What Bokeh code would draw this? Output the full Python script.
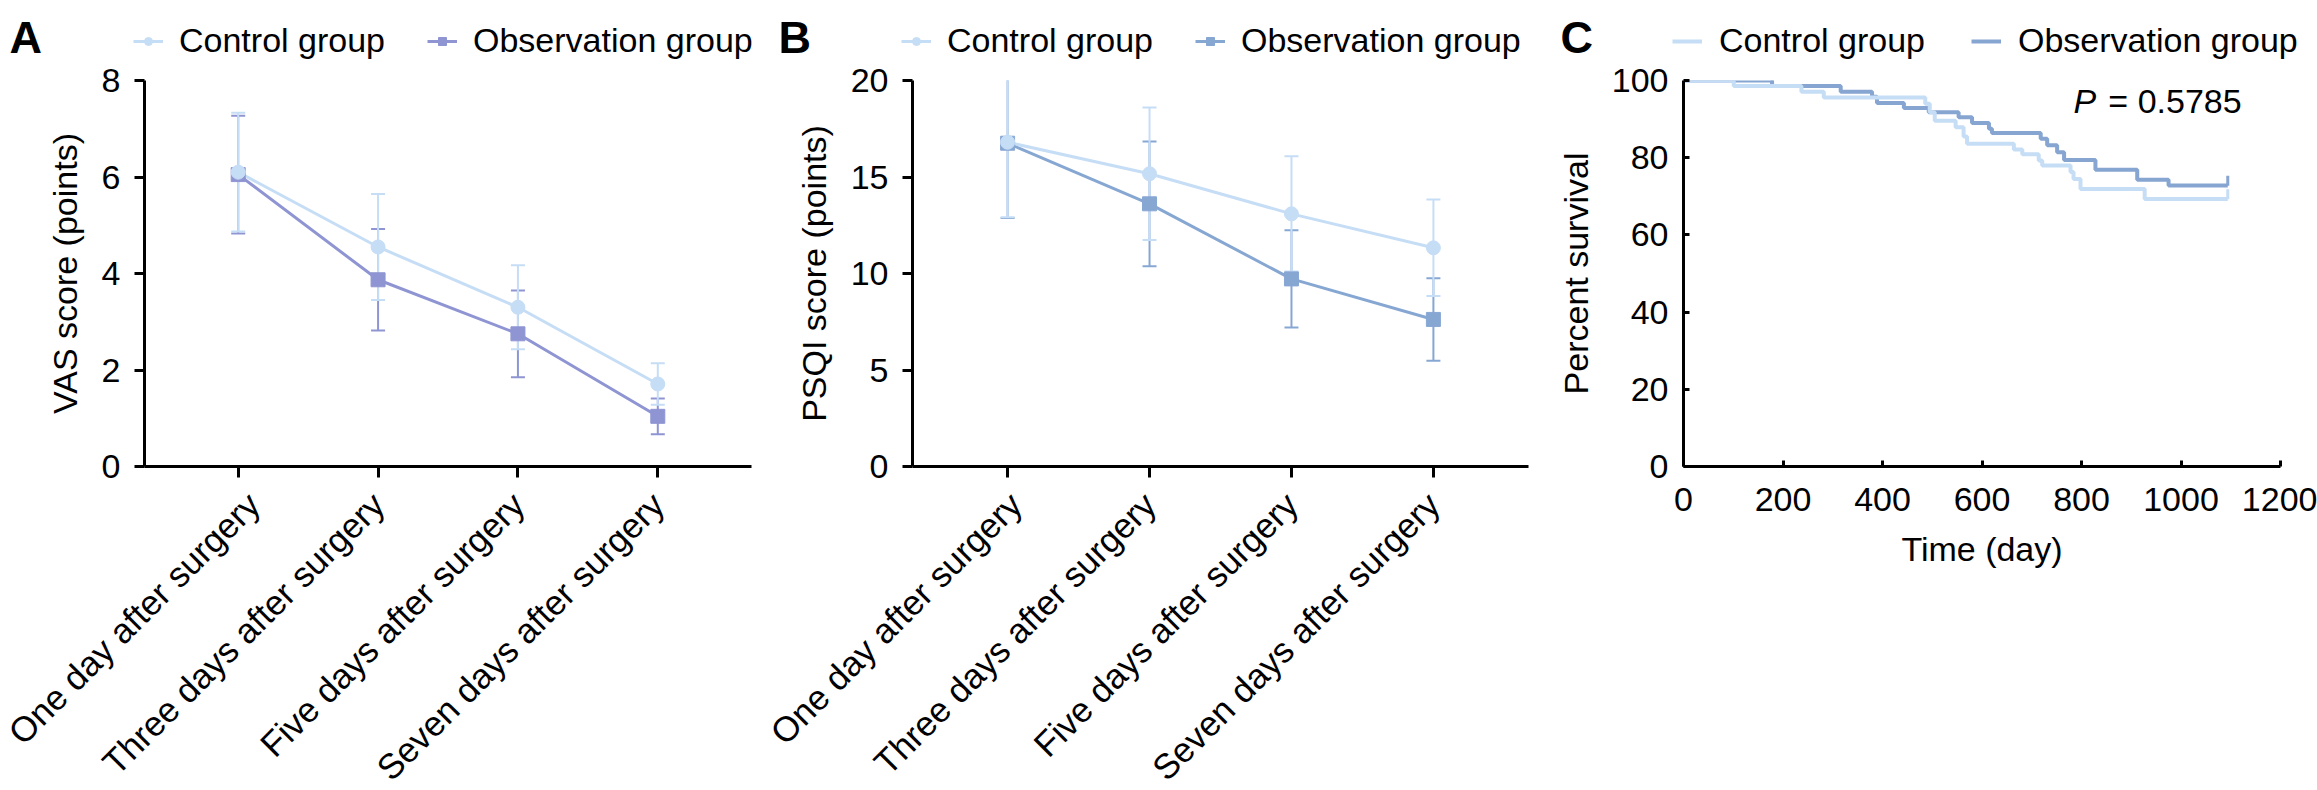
import math
from bokeh.plotting import figure
from bokeh.layouts import row, column
from bokeh.models import (ColumnDataSource, FactorRange, Range1d, Legend, LegendItem,
                          Label, FixedTicker)
from bokeh.embed import file_html
from bokeh.resources import INLINE

# ---------------- data ----------------
timepoints = ["One day after surgery", "Three days after surgery",
              "Five days after surgery", "Seven days after surgery"]

vas_control_mean = [6.10, 4.55, 3.30, 1.71]
vas_control_sd = [1.23, 1.10, 0.87, 0.43]
vas_obs_mean = [6.05, 3.87, 2.75, 1.04]
vas_obs_sd = [1.22, 1.05, 0.90, 0.37]

psqi_control_mean = [16.80, 15.17, 13.09, 11.33]
psqi_control_sd = [3.88, 3.43, 2.99, 2.50]
psqi_obs_mean = [16.75, 13.61, 9.72, 7.62]
psqi_obs_sd = [3.88, 3.23, 2.52, 2.14]

km_control_time = [0, 101, 237, 282, 486, 495, 505, 547, 563, 570, 664, 681, 714, 721, 778, 784, 798, 927, 1094]
km_control_surv = [100, 98.6, 97.1, 95.6, 94.0, 91.8, 89.6, 87.9, 85.5, 83.6, 82.1, 80.9, 79.3, 78.0, 76.3, 74.5, 71.9, 69.3, 69.3]
km_control_censor_time = [101, 1094]
km_control_censor_surv = [100, 69.3]

km_obs_time = [0, 178, 316, 379, 389, 443, 493, 553, 580, 614, 620, 718, 731, 751, 765, 828, 912, 975, 1094]
km_obs_surv = [100, 98.6, 97.1, 95.8, 94.2, 92.9, 91.8, 90.5, 89.0, 87.5, 86.4, 84.9, 83.2, 81.4, 79.4, 76.9, 74.3, 72.8, 72.8]
km_obs_censor_time = [178, 1094]
km_obs_censor_surv = [100, 72.8]

legend_labels = ["Control group", "Observation group"]
panel_letters = ["A", "B", "C"]
p_value_text = "= 0.5785"

vas_ticks = [0, 2, 4, 6, 8]
psqi_ticks = [0, 5, 10, 15, 20]
surv_ticks = [0, 20, 40, 60, 80, 100]
time_ticks = [0, 200, 400, 600, 800, 1000, 1200]

# ---------------- style ----------------
FONT = "Liberation Sans"
FS = "34px"
LIGHT = "#c6ddf6"
PURPLE = "#8f95d3"
STEEL = "#87a7d3"
STEEL_C = "#86a5d1"
NAN = float("nan")

HEAD_H = 62
TOP = 18
FRAME_H = 386
BOTTOM = 320


def base_axes(p):
    p.outline_line_color = None
    p.xgrid.grid_line_color = None
    p.ygrid.grid_line_color = None
    p.background_fill_color = "white"
    p.border_fill_color = "white"
    for ax in (p.xaxis[0], p.yaxis[0]):
        ax.axis_line_width = 3
        ax.axis_line_color = "black"
        ax.major_tick_line_width = 3
        ax.major_tick_line_color = "black"
        ax.minor_tick_line_color = None
        ax.major_label_text_font = FONT
        ax.major_label_text_font_size = FS
        ax.major_label_text_color = "black"
        ax.axis_label_text_font = FONT
        ax.axis_label_text_font_size = FS
        ax.axis_label_text_font_style = "normal"
        ax.axis_label_text_color = "black"


def score_panel(left, fw, right, ymax, yticks, ylabel, c_mean, c_sd, o_mean, o_sd, ocolor):
    p = figure(frame_width=fw, frame_height=FRAME_H,
               x_range=FactorRange(factors=timepoints, range_padding=0.17,
                                   range_padding_units="absolute"),
               y_range=Range1d(0, ymax), output_backend="svg", toolbar_location=None,
               min_border_left=left, min_border_right=right, min_border_top=TOP,
               min_border_bottom=BOTTOM)
    base_axes(p)
    p.yaxis.ticker = FixedTicker(ticks=yticks)
    p.yaxis.axis_label = ylabel
    p.yaxis.major_tick_out = 10
    p.yaxis.major_tick_in = 0
    p.yaxis.major_label_standoff = 14
    p.yaxis.axis_label_standoff = 15
    p.xaxis.major_tick_out = 11
    p.xaxis.major_tick_in = 0
    p.xaxis.major_label_standoff = 21
    p.xaxis.major_label_orientation = math.pi / 4
    p.xaxis.major_label_text_font_size = "35px"

    def src(mean, sd):
        return ColumnDataSource(dict(x=timepoints, y=mean,
                                     lo=[m - s for m, s in zip(mean, sd)],
                                     hi=[m + s for m, s in zip(mean, sd)]))

    cs = src(c_mean, c_sd)
    os_ = src(o_mean, o_sd)
    for s, col in ((os_, ocolor), (cs, LIGHT)):
        p.segment(x0="x", y0="lo", x1="x", y1="hi", source=s, line_color=col, line_width=2)
        p.scatter(x="x", y="lo", source=s, marker="dash", size=14, line_color=col, line_width=2)
        p.scatter(x="x", y="hi", source=s, marker="dash", size=14, line_color=col, line_width=2)
    p.line(x="x", y="y", source=os_, line_color=ocolor, line_width=3)
    p.line(x="x", y="y", source=cs, line_color=LIGHT, line_width=3)
    p.scatter(x="x", y="y", source=os_, marker="square", size=14, fill_color=ocolor, line_color=ocolor)
    p.scatter(x="x", y="y", source=cs, marker="circle", size=14, fill_color=LIGHT, line_color=LIGHT)
    return p


pA = score_panel(144, 607, 11, 8, vas_ticks, "VAS score (points)",
                 vas_control_mean, vas_control_sd, vas_obs_mean, vas_obs_sd, PURPLE)
pB = score_panel(150, 616, 20, 20, psqi_ticks, "PSQI score (points)",
                 psqi_control_mean, psqi_control_sd, psqi_obs_mean, psqi_obs_sd, STEEL)

# ---------------- Panel C: Kaplan-Meier ----------------
pC = figure(frame_width=597, frame_height=FRAME_H, x_range=Range1d(0, 1200), y_range=Range1d(0, 100),
            output_backend="svg", toolbar_location=None,
            min_border_left=135, min_border_right=37, min_border_top=TOP, min_border_bottom=BOTTOM)
base_axes(pC)
pC.xaxis.ticker = FixedTicker(ticks=time_ticks)
pC.yaxis.ticker = FixedTicker(ticks=surv_ticks)
pC.xaxis.axis_label = "Time (day)"
pC.yaxis.axis_label = "Percent survival"
for ax in (pC.xaxis[0], pC.yaxis[0]):
    ax.major_tick_in = 6
    ax.major_tick_out = 0
pC.xaxis.major_label_standoff = 21
pC.xaxis.axis_label_standoff = 16
pC.yaxis.major_label_standoff = 15
pC.yaxis.axis_label_standoff = 14

ctrl_src = ColumnDataSource(dict(t=km_control_time, s=km_control_surv))
obs_src = ColumnDataSource(dict(t=km_obs_time, s=km_obs_surv))
ctrl_cen = ColumnDataSource(dict(t=km_control_censor_time, s=[v + 1.2 for v in km_control_censor_surv]))
obs_cen = ColumnDataSource(dict(t=km_obs_censor_time, s=[v + 1.2 for v in km_obs_censor_surv]))

pC.step(x="t", y="s", source=obs_src, mode="after", line_color=STEEL_C, line_width=4)
pC.scatter(x="t", y="s", source=obs_cen, marker="dash", angle=math.pi / 2, size=10,
           line_color=STEEL_C, line_width=3)
pC.step(x="t", y="s", source=ctrl_src, mode="after", line_color=LIGHT, line_width=4)
pC.scatter(x="t", y="s", source=ctrl_cen, marker="dash", angle=math.pi / 2, size=10,
           line_color=LIGHT, line_width=3)

pC.add_layout(Label(x=784, y=94.8, text="P", text_font=FONT, text_font_size=FS,
                    text_font_style="italic", text_color="black", text_baseline="middle"))
pC.add_layout(Label(x=854, y=94.8, text=p_value_text, text_font=FONT, text_font_size=FS,
                    text_color="black", text_baseline="middle"))

# ---------------- header: panel letters and legends ----------------
TOTAL_W = (144 + 607 + 11) + (150 + 616 + 20) + (135 + 597 + 37)
head = figure(width=TOTAL_W, height=HEAD_H, x_range=Range1d(0, TOTAL_W), y_range=Range1d(0, HEAD_H),
              x_axis_type=None, y_axis_type=None, output_backend="svg", toolbar_location=None,
              min_border=0)
head.outline_line_color = None
head.background_fill_color = "white"
head.border_fill_color = "white"


def legend_in_head(x0, ctrl_col, obs_col, ctrl_marker, obs_marker, km=False, spacing=42, standoff=16):
    items = []
    for lab, col, mk in ((legend_labels[0], ctrl_col, ctrl_marker), (legend_labels[1], obs_col, obs_marker)):
        # legend-only renderers: a single NaN row, so nothing is drawn in the header itself
        ln = head.line(x=[NAN], y=[NAN], line_color=col, line_width=4 if km else 3)
        if km:
            mr = head.scatter(x=[NAN], y=[NAN], marker="dash", angle=math.pi / 2, size=10,
                              line_color=col, line_width=3)
        else:
            mr = head.scatter(x=[NAN], y=[NAN], marker=mk, size=13, fill_color=col, line_color=col)
        items.append(LegendItem(label=lab, renderers=[ln, mr]))
    leg = Legend(items=items, location=(x0, 2), orientation="horizontal",
                 padding=0, margin=0, spacing=spacing, glyph_width=30, glyph_height=20,
                 label_standoff=standoff, border_line_color=None, background_fill_alpha=0,
                 label_text_font=FONT, label_text_font_size=FS, label_text_color="black")
    head.add_layout(leg)


legend_in_head(133, LIGHT, PURPLE, "circle", "square")
legend_in_head(901, LIGHT, STEEL, "circle", "square")
legend_in_head(1672, LIGHT, STEEL_C, None, None, km=True, spacing=46, standoff=17)

for letter, lx in zip(panel_letters, (9, 778, 1560)):
    head.add_layout(Label(x=lx, y=HEAD_H - 36.5, text=letter, text_font=FONT, text_font_size="45px",
                          text_font_style="bold", text_color="black", text_baseline="middle"))

layout = column(head, row(pA, pB, pC))
open("out.html", "w").write(file_html(layout, INLINE))
